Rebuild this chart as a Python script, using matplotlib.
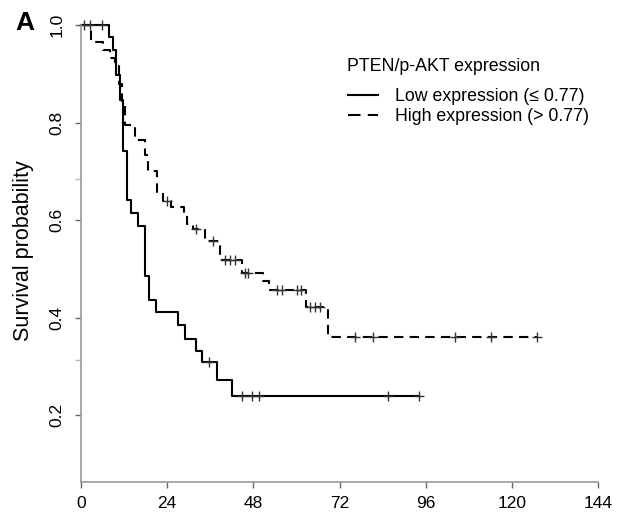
import numpy as np
import matplotlib
matplotlib.use('Agg')
import matplotlib.pyplot as plt
from matplotlib.lines import Line2D

plt.rcParams['font.family'] = ['Liberation Sans', 'DejaVu Sans']

# Kaplan-Meier steps (months, survival)
low_time = [0, 7.9, 8.8, 9.7, 10.8, 11.8, 12.7, 13.8, 16.0, 17.9, 18.9, 21.0, 26.9, 28.9, 31.9, 33.6, 37.8, 42.0, 94.2]
low_surv = [1.0, 0.975, 0.949, 0.897, 0.846, 0.742, 0.641, 0.614, 0.588, 0.485, 0.436, 0.411, 0.385, 0.357, 0.332, 0.309, 0.272, 0.240, 0.240]
low_cens = [0.9, 5.9, 35.7, 44.8, 47.6, 49.7, 85.4, 94.2]

high_time = [0, 2.9, 6.1, 8.1, 9.5, 10.5, 11.5, 12.3, 15.0, 17.8, 18.8, 21.1, 22.8, 25.0, 28.7, 29.5, 31.3,
             34.6, 38.7, 44.8, 50.7, 52.4, 62.7, 68.7, 127.0]
high_surv = [1.0, 0.966, 0.949, 0.932, 0.915, 0.88, 0.845, 0.795, 0.764, 0.733, 0.70, 0.655, 0.640, 0.627, 0.61, 0.593, 0.582,
             0.557, 0.519, 0.492, 0.476, 0.456, 0.422, 0.361, 0.361]
high_cens = [2.6, 23.9, 32.0, 36.9, 40.2, 41.6, 43.0, 45.6, 46.6, 54.5, 55.9, 60.1, 61.2, 63.8, 65.2, 66.6,
             76.3, 81.2, 104.2, 114.1, 126.9]

x_ticks = [0, 24, 48, 72, 96, 120, 144]
y_ticks = [0.2, 0.4, 0.6, 0.8, 1.0]
y_minor = [0.314, 0.685]

labels = ['Low expression (\u2264 0.77)', 'High expression (> 0.77)']


def surv_at(times, surv, t):
    idx = np.searchsorted(times, t, side='right') - 1
    return np.array(surv)[idx]


fig = plt.figure(figsize=(6.23, 5.19), dpi=100)
ax = fig.add_axes([81 / 623, 37 / 519, 517 / 623, 457 / 519])

lw = 1.5
ax.step(low_time, low_surv, where='post', color='black', lw=lw, clip_on=False)
ax.step(high_time, high_surv, where='post', color='black', lw=lw, dashes=(4.5, 3.0), clip_on=False)
ax.plot(low_cens, surv_at(low_time, low_surv, low_cens), ls='none', marker='+', ms=7, mew=1.0,
        color='#333333', clip_on=False)
ax.plot(high_cens, surv_at(high_time, high_surv, high_cens), ls='none', marker='+', ms=7, mew=1.0,
        color='#333333', clip_on=False)

ax.set_xlim(0, 144)
ax.set_ylim(0.063, 1.0)
ax.set_xticks(x_ticks)
ax.set_xticklabels([str(v) for v in x_ticks])
ax.set_yticks(y_ticks)
ax.set_yticklabels(['%.1f' % v for v in y_ticks], rotation=90, va='center')
ax.set_yticks(y_minor, minor=True)

for s in ['top', 'right']:
    ax.spines[s].set_visible(False)
for s in ['left', 'bottom']:
    ax.spines[s].set_color('#999999')
    ax.spines[s].set_linewidth(1.2)

ax.tick_params(axis='both', which='major', length=4, width=1.0, color='#666666', labelsize=12.5)
ax.tick_params(axis='y', which='major', pad=8)
ax.tick_params(axis='x', which='major', pad=6)
ax.tick_params(axis='y', which='minor', length=4, width=1.0, color='#bbbbbb')

fig.text(24 / 623, 1 - 251 / 519, 'Survival probability', rotation=90, ha='center', va='center', fontsize=15.5)
fig.text(15 / 623, 1 - 23 / 519, 'A', fontsize=19, fontweight='bold', va='center', ha='left')

fig.text(346.7 / 623, 1 - 66.7 / 519, 'PTEN/p-AKT expression', va='center', ha='left', fontsize=12.8)
handles = [Line2D([], [], color='black', lw=lw),
           Line2D([], [], color='black', lw=lw, dashes=(6, 3.5))]
ax.legend(handles, labels, loc='upper left', bbox_to_anchor=(348 / 623, 1 - 88.0 / 519),
          bbox_transform=fig.transFigure, frameon=False, borderpad=0, borderaxespad=0,
          handlelength=1.69, handletextpad=0.95, labelspacing=0.19, fontsize=12.8)

fig.savefig('out.png', dpi=100)
